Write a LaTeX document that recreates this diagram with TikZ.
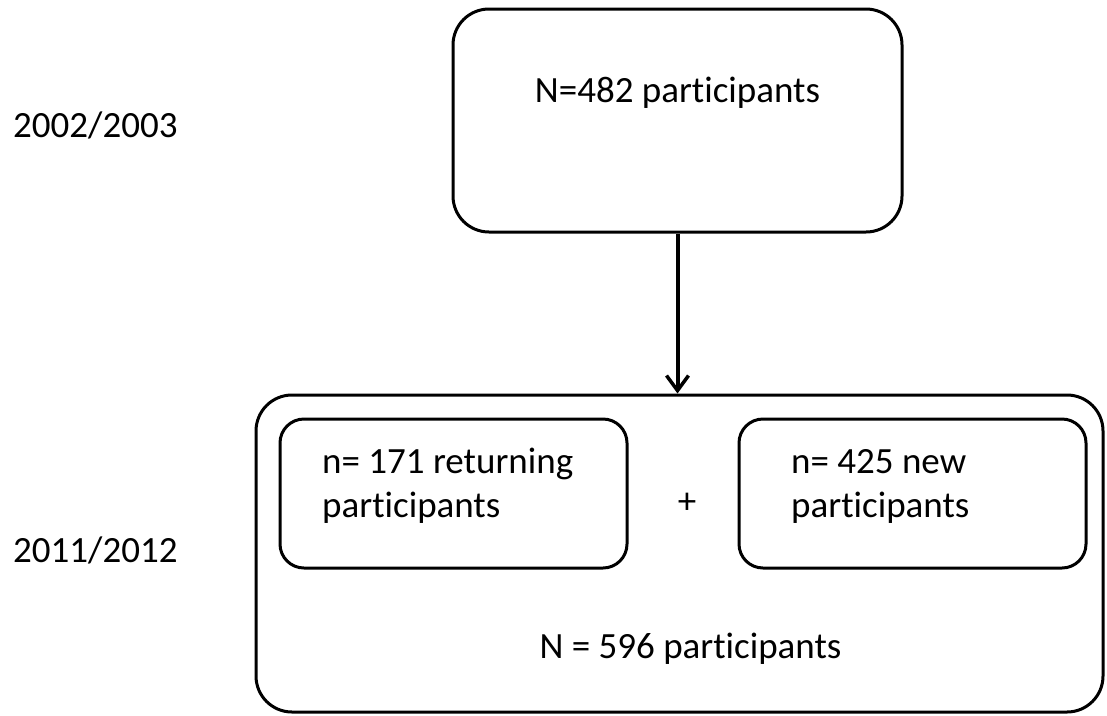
\documentclass[tikz,border=0pt]{standalone}
\usepackage{fontspec}
\setmainfont{Carlito}[Ligatures=NoCommon]
\usetikzlibrary{arrows.meta}

\tikzset{
  box/.style={draw, line width=3pt, rounded corners=#1},
  box/.default=36pt,
  txt/.style={inner sep=0pt, font=\fontsize{37}{44}\selectfont},
}

\begin{document}
\begin{tikzpicture}[x=1pt,y=-1pt,>={Straight Barb[length=15pt,width=22pt,line width=3.5pt]}]
  \useasboundingbox (0,0) rectangle (1107,715);

  % years
  \node[txt, anchor=base west] (y1) at (13,137) {2002/2003};
  \node[txt, anchor=base west] (y2) at (13,562) {2011/2012};

  % first wave
  \node[box, minimum width=449pt, minimum height=223pt] (wave1) at (677.5,120.5) {};
  \node[txt, anchor=base] (n1) at (677.5,102) {N=482 participants};

  % second wave
  \node[box, minimum width=847pt, minimum height=317pt] (wave2) at (679.5,553.5) {};
  \node[box=24pt, minimum width=347pt, minimum height=149pt] (ret) at (453.5,493.5) {};
  \node[box=24pt, minimum width=347pt, minimum height=149pt] (new) at (912.5,493.5) {};
  \node[txt, anchor=base west, align=left] (rettxt) at (322,517) {n= 171 returning\\participants};
  \node[txt, anchor=base west, align=left] (newtxt) at (791,517) {n= 425 new\\participants};
  \node[txt] (plus) at (687,503) {+};
  \node[txt, anchor=base] (n2) at (690.5,658) {N = 596 participants};

  \draw[->, line width=4pt] (wave1.south) -- (wave1.south |- wave2.north);
\end{tikzpicture}
\end{document}
